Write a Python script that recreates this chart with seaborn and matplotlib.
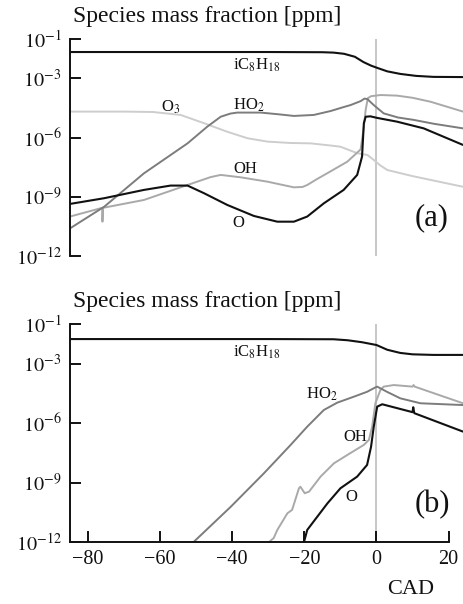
import numpy as np
import pandas as pd
import matplotlib
matplotlib.use("Agg")
import matplotlib.pyplot as plt
import seaborn as sns

# values, stored as log10(mass fraction)
# ---- panel (a)
ic8_a_x = [-85, -30, -15, -11.9, -9, -6, -3.6, -1.5, 0.3, 3, 6.6, 11, 15.8, 24]
ic8_a_y = [-1.66, -1.66, -1.67, -1.69, -1.75, -1.9, -2.17, -2.35, -2.47, -2.64, -2.77, -2.87, -2.92, -2.93]

ho2_a_x = [-85, -75.5, -64.5, -52.4, -46.9, -43.2, -40.5, -38.6, -32.1, -27, -22.9, -17.4,
           -12.7, -9.1, -7.2, -4.4, -3.3, -2.5, -0.75, 2, 6, 10.3, 16, 24]
ho2_a_y = [-10.6, -9.5, -7.81, -6.29, -5.44, -4.94, -4.78, -4.73, -4.73, -4.82, -4.9, -4.85,
           -4.65, -4.45, -4.35, -4.15, -4.02, -4.05, -4.35, -4.77, -4.98, -5.1, -5.3, -5.53]

o3_a_x = [-85, -70, -62, -54.3, -47.8, -41.4, -35.8, -30.3, -24, -18.3, -12.7, -10, -5.3,
          -2.5, -0.75, 1, 3, 10, 17, 24]
o3_a_y = [-4.68, -4.68, -4.7, -4.85, -5.27, -5.70, -6.03, -6.2, -6.27, -6.29, -6.4, -6.46, -6.79,
          -6.88, -7.13, -7.4, -7.64, -7.95, -8.22, -8.49]

oh_a_x = [-85, -76.1, -76.0, -76.0, -75.9, -64.5, -52.4, -46, -43.2, -37.7, -30.3, -22.9,
          -20.5, -19.2, -16.5, -13.7, -8.1, -4.4, -3.6, -3.0, -2.4, -1.5, 1.1, 5.7, 10, 15, 24]
oh_a_y = [-10.0, -9.56, -9.56, -10.26, -9.56, -9.16, -8.4, -8.0, -7.89, -8.01, -8.23, -8.52,
          -8.5, -8.4, -8.1, -7.81, -7.22, -6.6, -5.6, -4.6, -4.0, -3.9, -3.84, -3.87, -3.98, -4.18, -4.68]

o_a_x = [-85, -75.5, -64.5, -57.1, -52.4, -47.8, -41.4, -34, -27.5, -22.9, -19.2, -14.6,
         -9.1, -5.35, -4.0, -3.5, -3.0, -1.7, 0.2, 5.7, 13.1, 24]
o_a_y = [-9.36, -9.07, -8.65, -8.43, -8.43, -8.82, -9.41, -9.97, -10.26, -10.26, -10.0, -9.33,
         -8.65, -7.89, -6.96, -5.27, -4.94, -4.92, -5.0, -5.19, -5.53, -6.37]

# ---- panel (b)
ic8_b_x = [-85, -30, -11.9, -8, -4, 0, 3, 6.6, 10, 15.8, 24]
ic8_b_y = [-1.76, -1.76, -1.77, -1.82, -1.92, -2.06, -2.3, -2.46, -2.53, -2.56, -2.56]

ho2_b_x = [-50.6, -40.4, -31.2, -23.8, -19.2, -14.6, -10.9, -6.3, -2.6, -0.3, 0.2, 2.9,
           6.6, 12.2, 24]
ho2_b_y = [-11.98, -10.22, -8.53, -7.1, -6.18, -5.34, -4.97, -4.67, -4.42, -4.2, -4.16, -4.42,
           -4.75, -5.0, -5.09]

oh_b_x = [-29.8, -28.5, -27.5, -24.7, -23.4, -21.5, -21.1, -19.9, -18.7, -15.5, -11.8, -8.1,
          -3.5, -2.1, -1.2, -0.3, 1.1, 2, 4.8, 10.0, 10.3, 10.6, 24]
oh_b_y = [-12, -11.8, -11.39, -10.55, -10.38, -9.29, -9.21, -9.54, -9.46, -8.7, -8.03, -7.61,
          -7.1, -6.85, -6.18, -5.0, -4.33, -4.16, -4.08, -4.16, -4.08, -4.16, -5.0]

o_b_x = [-20.1, -19.2, -16.4, -13.6, -10, -5.35, -2.6, -1.5, -0.75, 0.2, 1.6, 9.4,
         10.0, 10.2, 10.5, 24]
o_b_y = [-12, -11.39, -10.72, -10.05, -9.29, -8.7, -8.11, -7.19, -6.18, -5.17, -5.05, -5.42,
         -5.45, -5.2, -5.5, -6.43]

yticks = [1e-1, 1e-3, 1e-6, 1e-9, 1e-12]
ytick_labels = [r"$10^{-1}$", r"$10^{-3}$", r"$10^{-6}$", r"$10^{-9}$", r"$10^{-12}$"]
xticks = [-80, -60, -40, -20, 0, 20]
xtick_labels = ["\u221280", "\u221260", "\u221240", "\u221220", "0", "20"]

BLACK = "#111111"
DARK = "#7c7c7c"
MID = "#a9a9a9"
LIGHT = "#cdcdcd"
VLINE = "#bdbdbd"

sns.set_theme(style="white")
plt.rcParams["font.family"] = ["Liberation Serif", "DejaVu Serif"]
plt.rcParams["mathtext.fontset"] = "stix"

fig = plt.figure(figsize=(4.63, 6.04), dpi=100)
ax_a = fig.add_axes([70 / 463, (604 - 256) / 604, 393 / 463, 217 / 604])
ax_b = fig.add_axes([70 / 463, (604 - 542) / 604, 393 / 463, 218 / 604])


def draw(ax, x, y, color, lw):
    d = pd.DataFrame({"x": x, "y": 10.0 ** np.array(y)})
    sns.lineplot(data=d, x="x", y="y", ax=ax, color=color, lw=lw,
                 estimator=None, sort=False)


# panel (a)
draw(ax_a, o3_a_x, o3_a_y, LIGHT, 1.4)
draw(ax_a, oh_a_x, oh_a_y, MID, 1.4)
draw(ax_a, ho2_a_x, ho2_a_y, DARK, 1.4)
draw(ax_a, o_a_x, o_a_y, BLACK, 1.5)
draw(ax_a, ic8_a_x, ic8_a_y, BLACK, 1.5)

# panel (b)
draw(ax_b, oh_b_x, oh_b_y, MID, 1.4)
draw(ax_b, ho2_b_x, ho2_b_y, DARK, 1.4)
draw(ax_b, o_b_x, o_b_y, BLACK, 1.5)
draw(ax_b, ic8_b_x, ic8_b_y, BLACK, 1.5)

for ax in (ax_a, ax_b):
    ax.set_yscale("log")
    ax.set_xlim(-85, 24)
    ax.set_ylim(1e-12, 1e-1)
    ax.axvline(0, color=VLINE, lw=1.2, zorder=0)
    ax.set_yticks(yticks)
    ax.set_yticklabels(ytick_labels)
    ax.minorticks_off()
    ax.tick_params(axis="y", direction="in", length=8, width=1.4, labelsize=14.5,
                   left=True, pad=6, colors=BLACK)
    ax.set_xlabel("")
    ax.set_ylabel("")
    for s in ("top", "right"):
        ax.spines[s].set_visible(False)
    ax.spines["left"].set_color(BLACK)
    ax.spines["left"].set_linewidth(1.4)
    ax.patch.set_alpha(0)

ax_a.spines["bottom"].set_visible(False)
ax_a.set_xticks([])

ax_b.spines["bottom"].set_color(BLACK)
ax_b.spines["bottom"].set_linewidth(1.4)
ax_b.spines["bottom"].set_bounds(-85, 20)
ax_b.set_xticks(xticks)
ax_b.set_xticklabels(xtick_labels)
ax_b.tick_params(axis="x", direction="in", length=8, width=1.4, labelsize=14.5,
                 bottom=True, pad=6, colors=BLACK)

# species labels
lab = dict(fontsize=12, color=BLACK, ha="center", va="center")
ax_a.text(-33.2, 10 ** -2.32, r"iC$_8$H$_{18}$", **lab)
ax_a.text(-57.0, 10 ** -4.45, r"O$_3$", **lab)
ax_a.text(-35.5, 10 ** -4.35, r"HO$_2$", **lab)
ax_a.text(-36.3, 10 ** -7.6, "OH", **lab)
ax_a.text(-38.2, 10 ** -10.33, "O", **lab)
ax_a.text(15.2, 10 ** -10.05, "(a)", fontsize=22, color=BLACK, ha="center", va="center")

ax_b.text(-33.2, 10 ** -2.45, r"iC$_8$H$_{18}$", **lab)
ax_b.text(-15.2, 10 ** -4.55, r"HO$_2$", **lab)
ax_b.text(-5.8, 10 ** -6.68, "OH", **lab)
ax_b.text(-7.0, 10 ** -9.75, "O", **lab)
ax_b.text(15.5, 10 ** -10.1, "(b)", fontsize=22, color=BLACK, ha="center", va="center")

fig.text(73 / 463, 1 - 22 / 604, "Species mass fraction [ppm]", fontsize=17,
         color=BLACK, ha="left", va="baseline")
fig.text(73 / 463, 1 - 307 / 604, "Species mass fraction [ppm]", fontsize=17,
         color=BLACK, ha="left", va="baseline")
fig.text(411 / 463, 1 - 590 / 604, "CAD", fontsize=16, color=BLACK,
         ha="center", va="center")

fig.savefig("out.png", dpi=100)
